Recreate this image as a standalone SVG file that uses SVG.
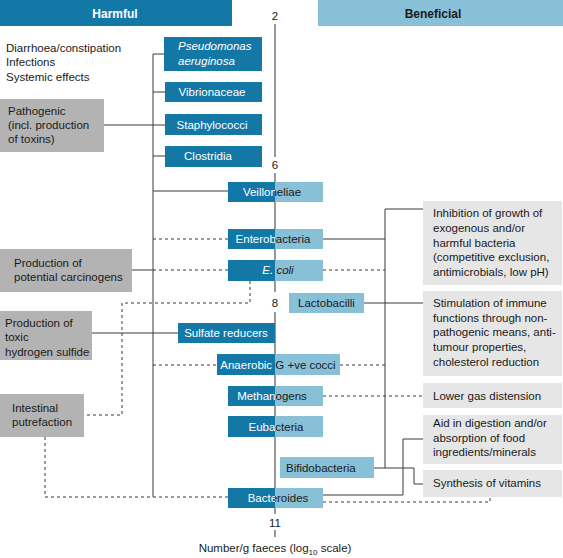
<svg xmlns="http://www.w3.org/2000/svg" width="563" height="558" viewBox="0 0 563 558">
<defs>
<style>
text{font-family:"Liberation Sans",Arial,sans-serif;font-size:11.5px;fill:#1a1a1a}
.title{font-weight:bold;font-size:12px}
.w{fill:#ffffff}
.it{font-style:italic}
.dk{fill:#1478a7}
.lt{fill:#88c0d8}
.gl{fill:#b3b3b3}
.gr{fill:#e6e6e6}
.ln{fill:none;stroke:#3a3a3a;stroke-width:1}
.ds{fill:none;stroke:#3a3a3a;stroke-width:1;stroke-dasharray:3,3}
.ax{fill:none;stroke:#555;stroke-width:1.2}
.c{text-anchor:middle}
</style>
<clipPath id="cl"><rect x="0" y="0" width="275" height="558"/></clipPath>
<clipPath id="cr"><rect x="275" y="0" width="288" height="558"/></clipPath>
</defs>

<g id="headers">
<rect class="dk" x="0" y="0" width="232" height="26"/>
<text class="title w c" x="115" y="18">Harmful</text>
<rect class="lt" x="318" y="0" width="245" height="26"/>
<text class="title c" x="433" y="18">Beneficial</text>
</g>

<g id="axis">
<path class="ax" d="M275 24V157M275 173V292M275 312V514M275 530V537"/>
<text class="c" x="275" y="20">2</text>
<text class="c" x="275" y="169">6</text>
<text class="c" x="275" y="307">8</text>
<text class="c" x="275" y="527">11</text>
<text class="c" x="275" y="552">Number/g faeces (log<tspan font-size="8" dy="3">10</tspan><tspan dy="-3"> scale)</tspan></text>
</g>

<g id="connectors">
<path class="ln" d="M153 54V497"/>
<path class="ln" d="M153 54H164M153 92H165M104 125H165M153 156H165M153 191H228"/>
<path class="ds" d="M153 239H228M153 270H228M153 365H217"/>
<path class="ln" d="M132 270H153M92 333H178"/>
<path class="ds" d="M250 281V303H122V415H84"/>
<path class="ds" d="M228 497H45V437"/>
<path class="ln" d="M423 209H385V468M323 239H385M364 303H423"/>
<path class="ds" d="M323 270H385M340 365H385M323 396H423"/>
<path class="ln" d="M374 468H414V484H423"/>
<path class="ln" d="M323 495H403V439H423"/>
<path class="ds" d="M323 502H490V497"/>
</g>

<g id="effects-left">
<text x="6" y="52">Diarrhoea/constipation</text>
<text x="6" y="66">Infections</text>
<text x="6" y="81">Systemic effects</text>
</g>

<g id="pathogenic">
<rect class="gl" x="0" y="99" width="104" height="53"/>
<text x="8" y="115">Pathogenic</text>
<text x="8" y="129">(incl. production</text>
<text x="8" y="143">of toxins)</text>
</g>

<g id="carcinogens">
<rect class="gl" x="0" y="249" width="132" height="43"/>
<text x="14" y="267">Production of</text>
<text x="14" y="281">potential carcinogens</text>
</g>

<g id="sulfide">
<rect class="gl" x="0" y="311" width="92" height="49"/>
<text x="5" y="327">Production of</text>
<text x="5" y="341">toxic</text>
<text x="5" y="356">hydrogen sulfide</text>
</g>

<g id="putrefaction">
<rect class="gl" x="0" y="394" width="84" height="43"/>
<text x="12" y="412">Intestinal</text>
<text x="12" y="426">putrefaction</text>
</g>

<g id="pseudomonas">
<rect class="dk" x="164" y="37" width="98" height="34"/>
<text class="w it" x="178" y="50">Pseudomonas</text>
<text class="w it" x="178" y="65">aeruginosa</text>
</g>
<g id="vibrionaceae">
<rect class="dk" x="165" y="82" width="97" height="20"/>
<text class="w c" x="212" y="96">Vibrionaceae</text>
</g>
<g id="staphylococci">
<rect class="dk" x="165" y="114" width="97" height="21"/>
<text class="w c" x="212" y="129">Staphylococci</text>
</g>
<g id="clostridia">
<rect class="dk" x="165" y="146" width="97" height="21"/>
<text class="w c" x="208" y="160">Clostridia</text>
</g>

<g id="veilloneliae">
<rect class="dk" x="228" y="182" width="47" height="20"/>
<rect class="lt" x="275" y="182" width="48" height="20"/>
<text class="w c" x="272" y="196" clip-path="url(#cl)">Veilloneliae</text>
<text class="c" x="272" y="196" clip-path="url(#cr)">Veilloneliae</text>
</g>
<g id="enterobacteria">
<rect class="dk" x="228" y="229" width="47" height="20"/>
<rect class="lt" x="275" y="229" width="48" height="20"/>
<text class="w c" x="273" y="243" clip-path="url(#cl)">Enterobacteria</text>
<text class="c" x="273" y="243" clip-path="url(#cr)">Enterobacteria</text>
</g>
<g id="ecoli">
<rect class="dk" x="228" y="260" width="47" height="21"/>
<rect class="lt" x="275" y="260" width="48" height="21"/>
<text class="w c it" x="278" y="274" clip-path="url(#cl)">E. coli</text>
<text class="c it" x="278" y="274" clip-path="url(#cr)">E. coli</text>
</g>
<g id="lactobacilli">
<rect class="lt" x="289" y="293" width="75" height="20"/>
<text x="298" y="307">Lactobacilli</text>
</g>
<g id="sulfate-reducers">
<rect class="dk" x="178" y="323" width="97" height="20"/>
<text class="w c" x="226" y="337">Sulfate reducers</text>
</g>
<g id="anaerobic">
<rect class="dk" x="217" y="354" width="58" height="21"/>
<rect class="lt" x="275" y="354" width="65" height="21"/>
<text class="w c" x="278" y="369" clip-path="url(#cl)">Anaerobic G +ve cocci</text>
<text class="c" x="278" y="369" clip-path="url(#cr)">Anaerobic G +ve cocci</text>
</g>
<g id="methanogens">
<rect class="dk" x="228" y="386" width="47" height="20"/>
<rect class="lt" x="275" y="386" width="48" height="20"/>
<text class="w c" x="272" y="400" clip-path="url(#cl)">Methanogens</text>
<text class="c" x="272" y="400" clip-path="url(#cr)">Methanogens</text>
</g>
<g id="eubacteria">
<rect class="dk" x="228" y="416" width="47" height="21"/>
<rect class="lt" x="275" y="416" width="48" height="21"/>
<text class="w c" x="276" y="431" clip-path="url(#cl)">Eubacteria</text>
<text class="c" x="276" y="431" clip-path="url(#cr)">Eubacteria</text>
</g>
<g id="bifidobacteria">
<rect class="lt" x="280" y="457" width="94" height="21"/>
<text x="286" y="472">Bifidobacteria</text>
</g>
<g id="bacteroides">
<rect class="dk" x="228" y="488" width="47" height="20"/>
<rect class="lt" x="275" y="488" width="48" height="20"/>
<text class="w c" x="278" y="502" clip-path="url(#cl)">Bacteroides</text>
<text class="c" x="278" y="502" clip-path="url(#cr)">Bacteroides</text>
</g>

<g id="inhibition">
<rect class="gr" x="423" y="201" width="139" height="84"/>
<text x="433" y="217">Inhibition of growth of</text>
<text x="433" y="232">exogenous and/or</text>
<text x="433" y="247">harmful bacteria</text>
<text x="433" y="261">(competitive exclusion,</text>
<text x="433" y="276">antimicrobials, low pH)</text>
</g>
<g id="stimulation">
<rect class="gr" x="423" y="291" width="139" height="85"/>
<text x="433" y="307">Stimulation of immune</text>
<text x="433" y="322">functions through non-</text>
<text x="433" y="336">pathogenic means, anti-</text>
<text x="433" y="351">tumour properties,</text>
<text x="433" y="366">cholesterol reduction</text>
</g>
<g id="gas">
<rect class="gr" x="423" y="383" width="139" height="25"/>
<text x="433" y="400">Lower gas distension</text>
</g>
<g id="digestion">
<rect class="gr" x="423" y="415" width="139" height="49"/>
<text x="433" y="427">Aid in digestion and/or</text>
<text x="433" y="442">absorption of food</text>
<text x="433" y="456">ingredients/minerals</text>
</g>
<g id="vitamins">
<rect class="gr" x="423" y="470" width="139" height="27"/>
<text x="433" y="487">Synthesis of vitamins</text>
</g>
</svg>
